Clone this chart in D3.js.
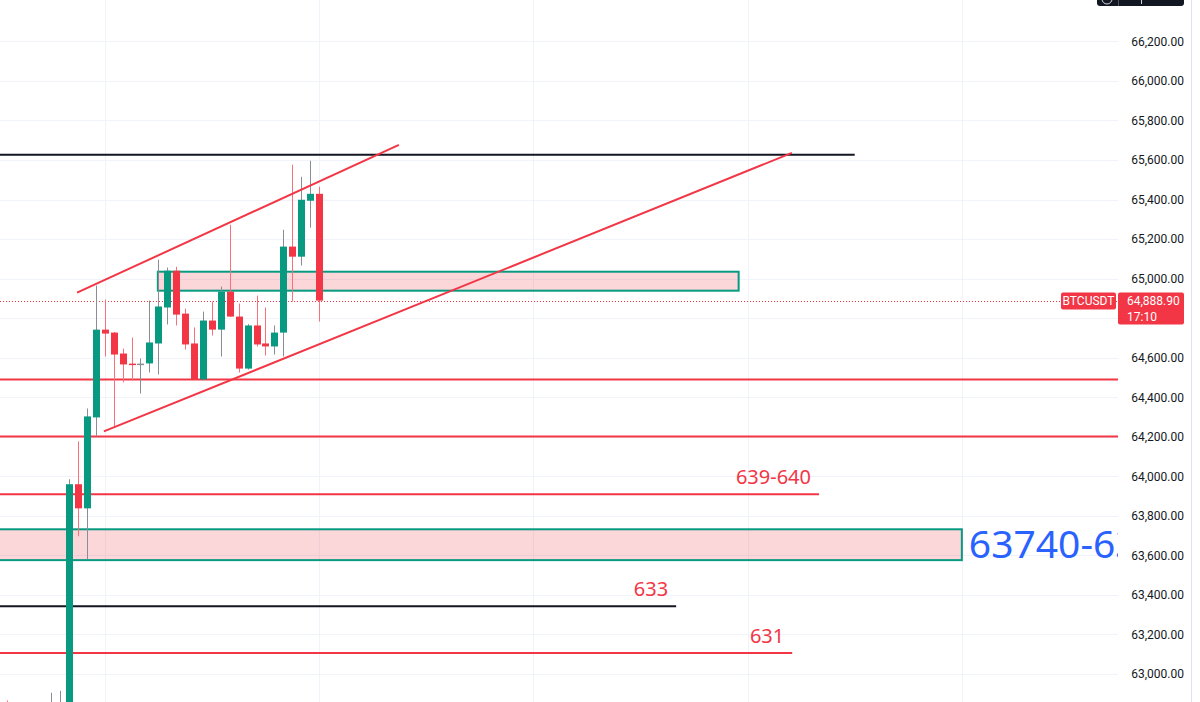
<!DOCTYPE html>
<html>
<head>
<meta charset="utf-8">
<script src="https://cdn.jsdelivr.net/npm/d3@7"></script>
<style>
  body { margin: 0; background: #fff; }
  svg { display: block; }
</style>
</head>
<body>
<svg id="chart"></svg>
<script>
// candles, bar index starts at -7
const firstBar = -7;
const opens  = [62850, 62800, 62790, 62780, 62800, 62820, 62840, 62850, 63960, 63838, 64298, 64742, 64727, 64621, 64570, 64570, 64571, 64672, 64854, 65040, 64823, 64672, 64490, 64788, 64742, 64934, 64808, 64545, 64763, 64672, 64657, 64727, 65162, 65111, 65394, 65429];
const highs  = [62866, 62840, 62830, 62820, 62835, 62905, 62915, 63985, 64177, 64343, 64965, 64894, 64730, 64646, 64702, 64596, 64889, 65096, 65056, 65060, 64848, 64753, 64833, 64884, 64960, 65273, 64874, 64770, 64914, 64854, 64763, 65247, 65576, 65515, 65596, 65465];
const lows   = [62760, 62740, 62720, 62700, 62720, 62760, 62780, 62800, 63697, 63581, 64202, 64606, 64247, 64475, 64485, 64419, 64525, 64515, 64768, 64763, 64641, 64490, 64490, 64712, 64606, 64806, 64525, 64540, 64657, 64611, 64616, 64606, 64884, 65066, 65258, 64783];
const closes = [62790, 62780, 62800, 62800, 62820, 62840, 62850, 63960, 63838, 64303, 64742, 64722, 64616, 64566, 64565, 64570, 64677, 64859, 65040, 64818, 64667, 64490, 64788, 64742, 64934, 64808, 64545, 64763, 64667, 64657, 64727, 65162, 65111, 65399, 65429, 64888.9];

const lastPrice = 64888.90;
const symbol = "BTCUSDT";
const countdown = "17:10";

const priceTicks = [63000, 63200, 63400, 63600, 63800, 64000, 64200, 64400, 64600, 64800, 65000, 65200, 65400, 65600, 65800, 66000, 66200];
// 64,800 sits under the last price tag, so it gets no label
const priceLabels = priceTicks.filter(d => d !== 64800);
const gridBars = [4, 28, 52, 76, 100];

// horizontal levels: price, end bar, label
const levelPrices = [65626, 64490, 64202, 63909, 63343, 63106];
const levelEnds   = [88, 130, 130, 84, 68, 81];
const levelLabels = ["", "", "", "639-640", "633", "631"];
const levelKinds  = ["black", "red", "red", "red", "black", "red"];

// zones
const zoneTops    = [65035, 63732];
const zoneBottoms = [64939, 63576];
const zoneStarts  = [9.95, -10];
const zoneEnds    = [75.0, 100.0];
const zoneTexts   = ["", "63740-63"];

// channel lines [bar, price]
const trendFrom = [[0.9, 64929], [3.9, 64227]];
const trendTo   = [[36.95, 65677], [80.96, 65636]];

const W = 1200, H = 702, plotW = 1118;
const upColor = "#089981", downColor = "#f23645";
const red = "#f23645", black = "#131722";

const svg = d3.select("#chart").attr("width", W).attr("height", H);

const x = d3.scaleLinear().domain([0, 28]).range([69, 319]);
const y = d3.scaleLinear().domain([63000, 66200]).range([674, 41.4]);

svg.append("defs").append("clipPath").attr("id", "plotClip")
  .append("rect").attr("x", 0).attr("y", 0).attr("width", plotW).attr("height", H);

// grid
const grid = svg.append("g");
grid.selectAll(".hg").data(priceTicks).join("line")
  .attr("x1", 0).attr("x2", plotW)
  .attr("y1", d => Math.round(y(d)) + 0.5).attr("y2", d => Math.round(y(d)) + 0.5)
  .attr("stroke", "#f0f3fa").attr("stroke-width", 1);
grid.selectAll(".vg").data(gridBars).join("line")
  .attr("x1", d => Math.round(x(d)) + 0.5).attr("x2", d => Math.round(x(d)) + 0.5)
  .attr("y1", 0).attr("y2", H)
  .attr("stroke", "#f0f3fa").attr("stroke-width", 1);

const plot = svg.append("g").attr("clip-path", "url(#plotClip)");

// zones
const zones = zoneTops.map((t, i) => ({top: t, bottom: zoneBottoms[i], s: zoneStarts[i], e: zoneEnds[i], text: zoneTexts[i]}));
plot.selectAll(".zone").data(zones).join("rect")
  .attr("x", d => x(d.s)).attr("width", d => x(d.e) - x(d.s))
  .attr("y", d => y(d.top)).attr("height", d => y(d.bottom) - y(d.top))
  .attr("fill", "rgba(242,54,69,0.2)")
  .attr("stroke", upColor).attr("stroke-width", 2);
plot.selectAll(".zoneText").data(zones.filter(d => d.text)).join("text")
  .attr("x", d => x(d.e) + 7)
  .attr("y", d => (y(d.top) + y(d.bottom)) / 2)
  .attr("dy", "0.34em")
  .attr("font-family", "Noto Sans, sans-serif")
  .attr("font-size", 39)
  .attr("fill", "#2962ff")
  .text(d => d.text);

// horizontal levels
const levels = levelPrices.map((p, i) => ({price: p, end: levelEnds[i], label: levelLabels[i], kind: levelKinds[i]}));
plot.selectAll(".lvl").data(levels).join("line")
  .attr("x1", 0).attr("x2", d => x(d.end))
  .attr("y1", d => y(d.price)).attr("y2", d => y(d.price))
  .attr("stroke", d => d.kind === "black" ? black : red)
  .attr("stroke-width", 2);
plot.selectAll(".lvlText").data(levels.filter(d => d.label)).join("text")
  .attr("x", d => x(d.end) - 8)
  .attr("y", d => y(d.price) - 10)
  .attr("text-anchor", "end")
  .attr("font-family", "Noto Sans, sans-serif")
  .attr("font-size", 20)
  .attr("fill", red)
  .text(d => d.label);

// last price dotted line
plot.append("line")
  .attr("x1", 0).attr("x2", plotW)
  .attr("y1", Math.round(y(lastPrice)) + 0.5).attr("y2", Math.round(y(lastPrice)) + 0.5)
  .attr("stroke", red).attr("stroke-width", 1).attr("stroke-dasharray", "1,2");

// candles
const bars = opens.map((o, i) => ({i: firstBar + i, o: o, h: highs[i], l: lows[i], c: closes[i]}));
const colorOf = d => d.c > d.o ? upColor : d.c < d.o ? downColor : "#8a8d96";
const wickOf = d => d.c >= d.o ? "#8a8d96" : "#f7707b";
const candles = plot.append("g");
candles.selectAll(".wick").data(bars).join("line")
  .attr("x1", d => Math.round(x(d.i)) + 0.5).attr("x2", d => Math.round(x(d.i)) + 0.5)
  .attr("y1", d => y(d.h)).attr("y2", d => y(d.l))
  .attr("stroke", wickOf).attr("stroke-width", 1);
candles.selectAll(".body").data(bars).join("rect")
  .attr("x", d => Math.round(x(d.i)) - 3)
  .attr("width", 7)
  .attr("y", d => y(Math.max(d.o, d.c)))
  .attr("height", d => Math.max(1.5, Math.abs(y(d.o) - y(d.c))))
  .attr("fill", colorOf);

// channel
const trends = trendFrom.map((f, i) => ({a: f, b: trendTo[i]}));
plot.selectAll(".trend").data(trends).join("line")
  .attr("x1", d => x(d.a[0])).attr("y1", d => y(d.a[1]))
  .attr("x2", d => x(d.b[0])).attr("y2", d => y(d.b[1]))
  .attr("stroke", red).attr("stroke-width", 2);

// price axis
const axis = svg.append("g")
  .attr("transform", "translate(1184,0)")
  .call(d3.axisLeft(y).tickValues(priceLabels).tickSize(0).tickPadding(0).tickFormat(d3.format(",.2f")));
axis.select(".domain").remove();
axis.selectAll("text")
  .attr("font-family", "Roboto, sans-serif")
  .attr("font-size", 12)
  .attr("fill", black);

svg.append("line").attr("x1", 1191.5).attr("x2", 1191.5).attr("y1", 0).attr("y2", H)
  .attr("stroke", "#e0e3eb");

// last price tags
const ty = y(lastPrice);
svg.append("rect").attr("x", 1061).attr("y", ty - 8).attr("width", 55).attr("height", 17)
  .attr("rx", 2).attr("fill", red);
svg.append("text").attr("x", 1088.5).attr("y", ty + 0.5).attr("dy", "0.35em")
  .attr("text-anchor", "middle").attr("font-family", "Roboto, sans-serif").attr("font-size", 12)
  .attr("fill", "#fff").text(symbol);
svg.append("rect").attr("x", 1118).attr("y", ty - 8).attr("width", 66).attr("height", 32)
  .attr("rx", 2).attr("fill", red);
svg.append("text").attr("x", 1127).attr("y", ty + 0.5).attr("dy", "0.35em")
  .attr("font-family", "Roboto, sans-serif").attr("font-size", 12)
  .attr("fill", "#fff").text(d3.format(",.2f")(lastPrice));
svg.append("text").attr("x", 1127).attr("y", ty + 16.5).attr("dy", "0.35em")
  .attr("font-family", "Roboto, sans-serif").attr("font-size", 12)
  .attr("fill", "#fff").text(countdown);

// top-right button
svg.append("rect").attr("x", 1097).attr("y", -8).attr("width", 87).attr("height", 14)
  .attr("rx", 3).attr("fill", black);
svg.append("line").attr("x1", 1118.5).attr("x2", 1118.5).attr("y1", 0).attr("y2", 6)
  .attr("stroke", "#50535e");
svg.append("circle").attr("cx", 1107).attr("cy", -1).attr("r", 5)
  .attr("fill", "none").attr("stroke", "#d1d4dc").attr("stroke-width", 1);
svg.append("line").attr("x1", 1141.5).attr("x2", 1141.5).attr("y1", 0).attr("y2", 4)
  .attr("stroke", "#d1d4dc");
</script>
</body>
</html>
